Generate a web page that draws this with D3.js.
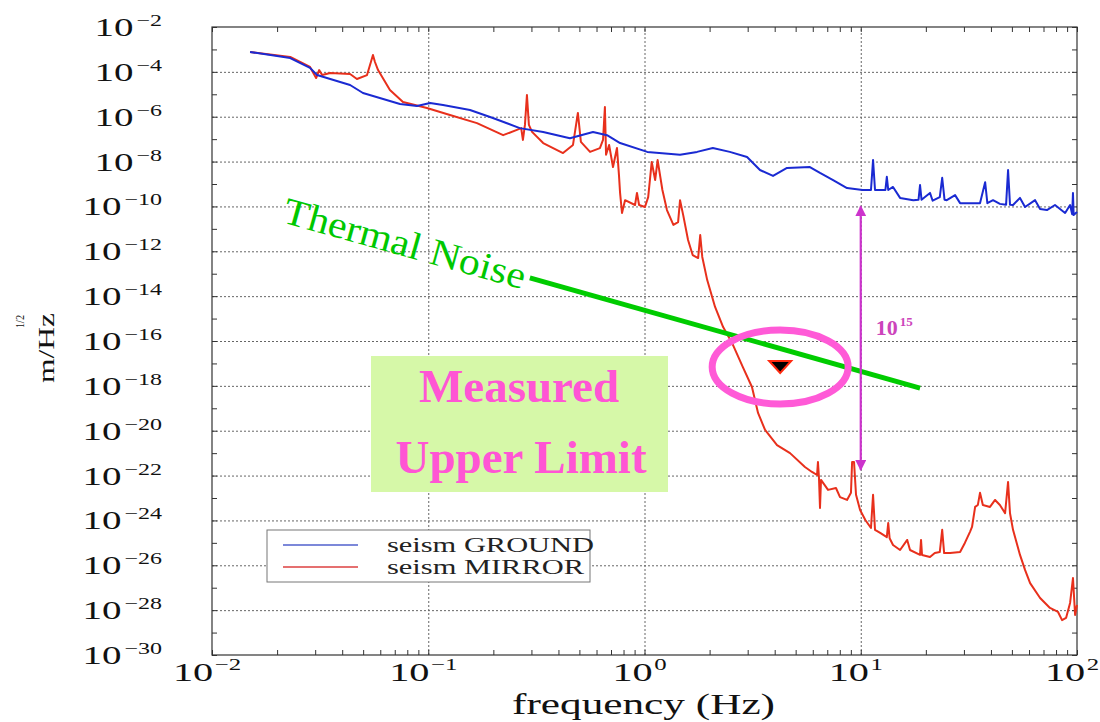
<!DOCTYPE html>
<html><head><meta charset="utf-8">
<script src="https://cdn.jsdelivr.net/npm/d3@7"></script>
<style>body{margin:0;background:#fff}</style>
</head><body><svg id="c" width="1100" height="722"></svg>
<script>
// ---- data ----
const groundFreq=[0.015,0.023,0.0284,0.0306,0.0435,0.0499,0.074,0.0887,0.102,0.117,0.156,0.199,0.265,0.34,0.452,0.578,0.671,0.771,1.03,1.46,1.75,2.07,2.48,2.98,3.42,3.93,4.56,5.82,6.48,7.45,8.64,10.2,11.15,11.4,11.64,12.3,13.0,13.2,13.4,14.1,15.2,17.5,18.5,18.8,19.1,20.9,21.5,23.2,23.8,24.4,25.0,27.3,28.8,35.6,37.6,38.5,40.9,44.0,47.0,48.0,49.0,50.6,54.5,57.5,64.0,67.5,72.6,79.1,88.1,92.9,95.0,95.8,96.5,100];
const groundVal=[7.7e-4,4.1e-4,1.5e-4,7.2e-5,2.6e-5,1.14e-5,3.7e-6,3.0e-6,4.1e-6,3.3e-6,2.0e-6,8.8e-7,3.1e-7,2.1e-7,1.1e-7,2.1e-7,1.5e-7,6.7e-8,2.7e-8,2.0e-8,2.7e-8,4.0e-8,2.7e-8,1.6e-8,4.2e-9,2.3e-9,5.2e-9,5.7e-9,3.1e-9,1.5e-9,6.6e-10,5.4e-10,5.4e-10,1.17e-8,5.4e-10,5.4e-10,5.4e-10,2.1e-9,5.4e-10,7.4e-10,2.4e-10,1.9e-10,2.0e-10,9.0e-10,2.0e-10,4.0e-10,1.8e-10,2.6e-10,1.9e-9,2.0e-10,1.9e-10,3.2e-10,1.4e-10,1.4e-10,1.2e-9,1.4e-10,1.9e-10,1.3e-10,1.2e-10,4.2e-9,1.2e-10,1.16e-10,2.4e-10,9.4e-11,1.9e-10,7.7e-11,6.9e-11,1.16e-10,5.1e-11,1.16e-10,4.5e-11,4.0e-10,4.1e-11,5.6e-11];
const mirrorFreq=[0.015,0.023,0.0284,0.0303,0.0313,0.0323,0.0352,0.0435,0.0468,0.0521,0.0543,0.0555,0.0567,0.0586,0.0665,0.0764,0.0986,0.126,0.168,0.222,0.257,0.269,0.274,0.280,0.286,0.292,0.302,0.34,0.42,0.467,0.492,0.508,0.56,0.622,0.643,0.656,0.664,0.686,0.715,0.746,0.762,0.771,0.787,0.813,0.904,0.923,0.944,1.005,1.04,1.08,1.12,1.15,1.21,1.27,1.36,1.43,1.46,1.51,1.59,1.67,1.77,1.81,1.85,1.95,2.12,2.31,2.54,2.85,3.14,3.35,3.61,4.10,4.71,5.52,5.95,6.28,6.34,6.41,6.48,6.55,7.06,7.68,8.02,8.64,9.01,9.12,9.31,9.51,9.93,10.5,11.15,11.4,11.64,12.3,13.2,13.4,13.6,14.1,15.2,16.4,16.9,18.8,19.0,19.2,20.9,22.0,23.2,23.8,24.3,25.9,28.8,30.3,32.0,32.7,33.8,34.8,35.6,36.7,39.6,41.8,44.0,46.5,48.0,49.0,50.6,54.5,57.5,60.7,67.5,75.0,81.7,85.3,89.0,92.9,95.8,98.0,100];
const mirrorVal=[7.7e-4,4.6e-4,1.65e-4,5.3e-5,1.2e-4,7.2e-5,8.9e-5,8.0e-5,4.8e-5,7.2e-5,2.75e-4,5.6e-4,2.75e-4,1.2e-4,1.55e-5,4.5e-6,2.45e-6,1.2e-6,5.2e-7,1.5e-7,2.6e-7,3.1e-7,9.2e-8,4.3e-7,9.3e-6,4.3e-7,2.1e-7,6.7e-8,2.4e-8,5.5e-8,1.47e-6,7.5e-8,2.7e-8,4.0e-8,9.2e-8,2.7e-6,2.0e-8,5.5e-8,5.7e-9,4.0e-8,2.5e-9,4.0e-10,5.1e-11,1.9e-10,1.16e-10,4.0e-10,1.16e-10,9.4e-11,2.6e-10,9.6e-9,1.5e-9,1.17e-8,5.4e-10,6.9e-11,1.5e-11,2.0e-11,1.9e-10,4.1e-11,3.2e-12,6.8e-13,5.0e-13,5.3e-12,5.6e-13,5.2e-14,3.3e-15,4.2e-16,8.2e-17,6.9e-18,8.9e-19,6.2e-20,1.08e-20,2.3e-21,1.0e-21,2.4e-22,1.45e-22,1.06e-22,4.0e-22,7.8e-23,3.6e-24,6.4e-23,2.3e-23,2.8e-23,1.1e-23,8.2e-24,1.7e-23,4.0e-22,4.0e-22,1.4e-23,2.9e-24,1.05e-24,4.6e-25,1.4e-23,3.8e-25,2.8e-25,1.8e-25,7.7e-25,1.6e-25,8.0e-26,4.8e-26,1.35e-25,4.8e-26,2.9e-26,1.35e-25,2.9e-26,2.35e-26,3.5e-26,3.9e-26,3.8e-25,3.5e-26,3.5e-26,3.9e-26,9.9e-26,3.1e-25,5.1e-25,4.0e-24,4.9e-24,1.7e-23,4.9e-24,4.0e-24,8.2e-24,4.9e-24,2.1e-24,5.2e-23,2.1e-24,3.8e-25,2.9e-26,6.2e-27,1.6e-27,3.5e-28,1.25e-28,8.3e-29,3.6e-29,4.5e-29,2.1e-28,2.7e-27,6.1e-29,1.7e-28];
const thermalFreq=[0.295,18.8];
const thermalVal=[6.5e-14,8.0e-19];
const limitFreq=[4.24];
const limitVal=[8.5e-18];
const gapFreq=[10];
const gapVal=[1e-10,1.8e-22];
const xTickExps=[-2,-1,0,1,2];
const yTickExps=[-2,-4,-6,-8,-10,-12,-14,-16,-18,-20,-22,-24,-26,-28,-30];
const seriesNames=["seism GROUND","seism MIRROR"];
const seriesColors=["#1a2ad2","#e8301c"];

// ---- scales ----
const svg=d3.select("#c");
const L=212,R=1077,T=27,B=655;
const x=d3.scaleLog().domain([1e-2,1e2]).range([L,R]);
const y=d3.scaleLog().domain([1e-30,1e-2]).range([B,T]);
const serif="'Liberation Serif','Times New Roman',serif";

svg.append("rect").attr("width",1100).attr("height",722).attr("fill","#fff");

// grid
const gx=[0.1,1,10];
svg.append("g").attr("transform",`translate(0,${B})`)
  .call(d3.axisBottom(x).tickValues(gx).tickSize(-(B-T)).tickFormat(""))
  .call(g=>{g.select(".domain").remove();g.selectAll("line").attr("stroke","#666").attr("stroke-dasharray","2,2");});
const gy=yTickExps.filter(e=>e>-30&&e<-2).map(e=>Math.pow(10,e));
svg.append("g").attr("transform",`translate(${L},0)`)
  .call(d3.axisLeft(y).tickValues(gy).tickSize(-(R-L)).tickFormat(""))
  .call(g=>{g.select(".domain").remove();g.selectAll("line").attr("stroke","#666").attr("stroke-dasharray","2,2");});

// minor ticks
const minorX=[];
for(let e=-2;e<2;e++)for(let k=1;k<10;k++)minorX.push(k*Math.pow(10,e));
minorX.push(100);
const decY=d3.range(-30,-1).map(e=>Math.pow(10,e));
const tickStyle=g=>{g.select(".domain").remove();g.selectAll("line").attr("stroke","#333");};
svg.append("g").attr("transform",`translate(0,${B})`).call(d3.axisBottom(x).tickValues(minorX).tickSize(-5).tickFormat("")).call(tickStyle);
svg.append("g").attr("transform",`translate(0,${T})`).call(d3.axisTop(x).tickValues(minorX).tickSize(-5).tickFormat("")).call(tickStyle);
svg.append("g").attr("transform",`translate(${L},0)`).call(d3.axisLeft(y).tickValues(decY).tickSize(-5).tickFormat("")).call(tickStyle);
svg.append("g").attr("transform",`translate(${R},0)`).call(d3.axisRight(y).tickValues(decY).tickSize(-5).tickFormat("")).call(tickStyle);

// frame
svg.append("rect").attr("x",L).attr("y",T).attr("width",R-L).attr("height",B-T)
  .attr("fill","none").attr("stroke","#333").attr("stroke-width",1.2);

// curves
const line=d3.line().x(d=>x(d[0])).y(d=>y(d[1]));
const series=[d3.zip(groundFreq,groundVal),d3.zip(mirrorFreq,mirrorVal)];
svg.append("path").datum(series[1]).attr("d",line).attr("fill","none").attr("stroke",seriesColors[1]).attr("stroke-width",2).attr("stroke-linejoin","round");
svg.append("path").datum(series[0]).attr("d",line).attr("fill","none").attr("stroke",seriesColors[0]).attr("stroke-width",2).attr("stroke-linejoin","round");

// tick labels
yTickExps.forEach(e=>{
  const t=svg.append("text").attr("transform",`translate(162,${y(Math.pow(10,e))+9}) scale(1.5,1)`)
    .attr("text-anchor","end").attr("font-family",serif).attr("fill","#111");
  t.append("tspan").attr("font-size",26).text("10");
  t.append("tspan").attr("font-size",16).attr("dy",-10).attr("dx",2).text("\u2212"+(-e));
});
xTickExps.forEach(e=>{
  const t=svg.append("text").attr("transform",`translate(${x(Math.pow(10,e))-5},681) scale(1.55,1)`)
    .attr("text-anchor","middle").attr("font-family",serif).attr("fill","#111");
  t.append("tspan").attr("font-size",26).text("10");
  t.append("tspan").attr("font-size",16).attr("dy",-11).attr("dx",1).text(e<0?"\u2212"+(-e):String(e));
});

// axis titles
svg.append("text").attr("x",512).attr("y",714).attr("font-family",serif).attr("font-size",30)
  .attr("textLength",263).attr("lengthAdjust","spacingAndGlyphs").attr("fill","#111").text("frequency (Hz)");
svg.append("text").attr("transform","translate(54,383) rotate(-90)").attr("font-family",serif).attr("font-size",24)
  .attr("textLength",70).attr("lengthAdjust","spacingAndGlyphs").attr("fill","#111").text("m/Hz");
svg.append("text").attr("transform","translate(24,328) rotate(-90)").attr("font-family",serif).attr("font-size",12)
  .attr("textLength",13).attr("lengthAdjust","spacingAndGlyphs").attr("fill","#111").text("1/2");

// legend
svg.append("rect").attr("x",267).attr("y",530).attr("width",323).attr("height",52)
  .attr("fill","#fff").attr("stroke","#777").attr("stroke-width",1);
seriesNames.forEach((n,i)=>{
  const yy=545+i*22;
  svg.append("line").attr("x1",283).attr("x2",358).attr("y1",yy).attr("y2",yy)
    .attr("stroke",i?"#dd4040":"#5060cc").attr("stroke-width",1.5);
  svg.append("text").attr("x",387).attr("y",yy+7).attr("font-family",serif).attr("font-size",20)
    .attr("textLength",i?197:207).attr("lengthAdjust","spacingAndGlyphs").attr("fill","#222").text(n);
});

// thermal noise
svg.append("path").datum(d3.zip(thermalFreq,thermalVal)).attr("d",line)
  .attr("stroke","#00cc00").attr("stroke-width",5).attr("fill","none");
svg.append("text").attr("transform","translate(281,222) rotate(15.6)").attr("font-family",serif)
  .attr("font-size",38).attr("textLength",250).attr("lengthAdjust","spacingAndGlyphs")
  .attr("fill","#00c800").text("Thermal Noise");

// measured upper limit box
svg.append("rect").attr("x",371).attr("y",356).attr("width",297).attr("height",136).attr("fill","#d6f8a8");
svg.append("text").attr("x",519).attr("y",402).attr("text-anchor","middle").attr("font-family",serif)
  .attr("font-weight","bold").attr("font-size",47).attr("fill","#ff55d4").text("Measured");
svg.append("text").attr("x",521).attr("y",473).attr("text-anchor","middle").attr("font-family",serif)
  .attr("font-weight","bold").attr("font-size",47).attr("fill","#ff55d4").text("Upper Limit");

// limit marker & ellipse
const lx=x(limitFreq[0]),ly=y(limitVal[0]);
svg.append("ellipse").attr("cx",lx).attr("cy",ly+2).attr("rx",68).attr("ry",37)
  .attr("fill","none").attr("stroke","#ff5ad7").attr("stroke-width",7);
svg.append("path").attr("transform",`translate(${lx},${ly})`).attr("d","M-11,-4L11,-4L0,8Z")
  .attr("fill","#000").attr("stroke","#ff2a10").attr("stroke-width",2);

// gap arrow
const defs=svg.append("defs");
defs.append("marker").attr("id","ah").attr("viewBox","0 0 10 10").attr("refX",9).attr("refY",5)
  .attr("markerWidth",5).attr("markerHeight",5).attr("orient","auto-start-reverse")
  .append("path").attr("d","M0,0L10,5L0,10Z").attr("fill","#cc33cc");
const ax=x(gapFreq[0]);
svg.append("line").attr("x1",ax).attr("x2",ax).attr("y1",y(gapVal[0])).attr("y2",y(gapVal[1]))
  .attr("stroke","#cc33cc").attr("stroke-width",2.2).attr("marker-start","url(#ah)").attr("marker-end","url(#ah)");
const lab=svg.append("text").attr("x",ax+15).attr("y",335).attr("font-family",serif).attr("font-weight","bold").attr("fill","#cc44bb");
lab.append("tspan").attr("font-size",22).text("10");
lab.append("tspan").attr("font-size",13).attr("dy",-9).attr("dx",2).text("15");
</script></body></html>
